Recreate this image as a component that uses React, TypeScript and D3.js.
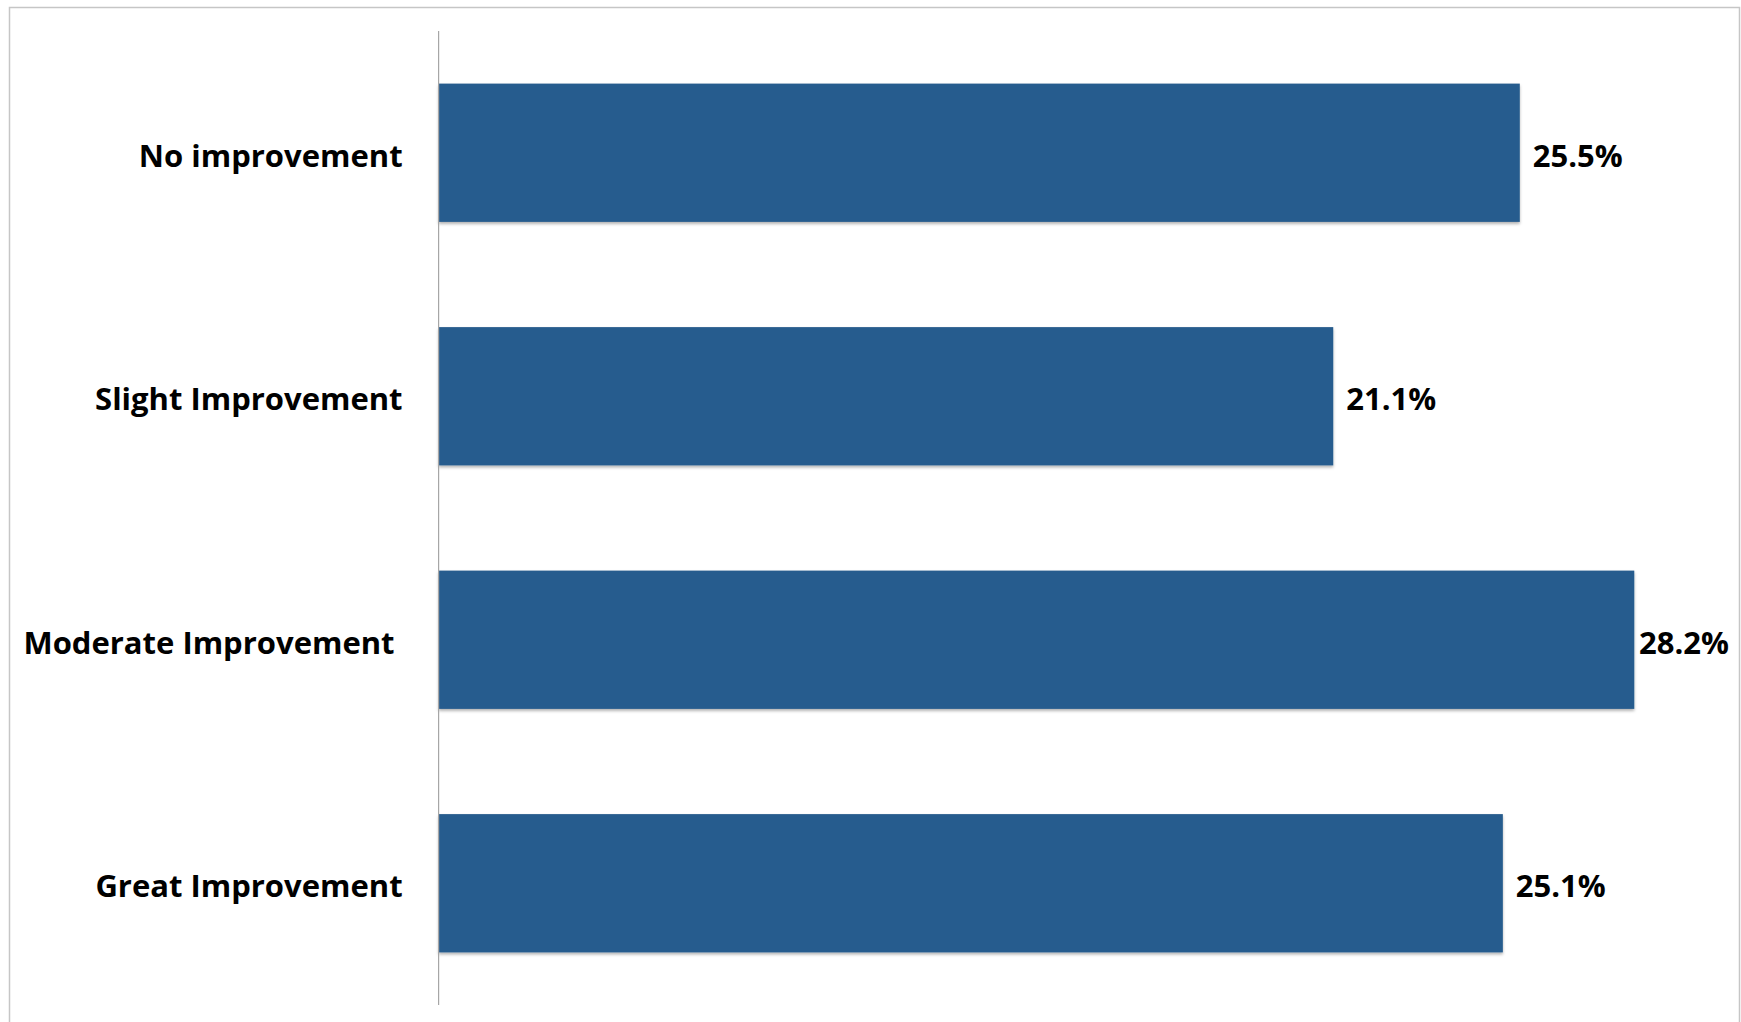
import * as d3 from "d3";

const categories = ["No improvement", "Slight Improvement", "Moderate Improvement ", "Great Improvement"];
const values = [25.5, 21.1, 28.2, 25.1];
const xDomain = [0, 30];

const width = 1741;
const height = 1022;
const plot = { left: 438.6, right: 1710.6, top: 31, bottom: 1005 };
const labelRightLimit = 1729;
const barColor = "#285c8e";
const font = "'Open Sans', Lato, sans-serif";

const x = d3.scaleLinear().domain(xDomain).range([plot.left, plot.right]);
const y = d3
  .scaleBand<string>()
  .domain(categories)
  .range([plot.top, plot.bottom])
  .paddingInner(0.432)
  .paddingOuter(0.216);

const valueLabelWidth = 92;

export default function App() {
  return (
    <svg
      width={width}
      height={height}
      viewBox={`0 0 ${width} ${height}`}
      style={{ position: "absolute", left: 0, top: 0, background: "#fff" }}
    >
      <defs>
        <filter id="barShadow" x="-5%" y="-10%" width="110%" height="130%">
          <feDropShadow dx="0" dy="2" stdDeviation="1.5" floodColor="#000" floodOpacity="0.3" />
        </filter>
      </defs>
      <rect x={9.5} y={7.5} width={1730} height={1030} fill="#fff" stroke="#c6c6c6" strokeWidth={1.5} />

      {categories.map((cat, i) => {
        const v = values[i];
        const y0 = y(cat) ?? 0;
        const bw = y.bandwidth();
        const barEnd = x(v);
        const overflow = barEnd + 13 + valueLabelWidth > labelRightLimit;
        return (
          <g key={cat}>
            <rect
              x={x(0)}
              y={y0}
              width={barEnd - x(0)}
              height={bw}
              fill={barColor}
              filter="url(#barShadow)"
            />
            <text
              x={plot.left - 36}
              y={y0 + bw / 2 + 3}
              dy="0.35em"
              textAnchor="end"
              fontFamily={font}
              fontWeight="bold"
              fontSize={31}
              fill="#000"
              style={{ whiteSpace: "pre" }}
            >
              {cat}
            </text>
            <text
              x={overflow ? labelRightLimit : barEnd + 13}
              y={y0 + bw / 2 + 3}
              dy="0.35em"
              textAnchor={overflow ? "end" : "start"}
              fontFamily={font}
              fontWeight="bold"
              fontSize={31}
              fill="#000"
            >
              {v.toFixed(1)}%
            </text>
          </g>
        );
      })}

      <line x1={x(0)} x2={x(0)} y1={plot.top} y2={plot.bottom} stroke="#a6a6a6" strokeWidth={1.2} />
    </svg>
  );
}
